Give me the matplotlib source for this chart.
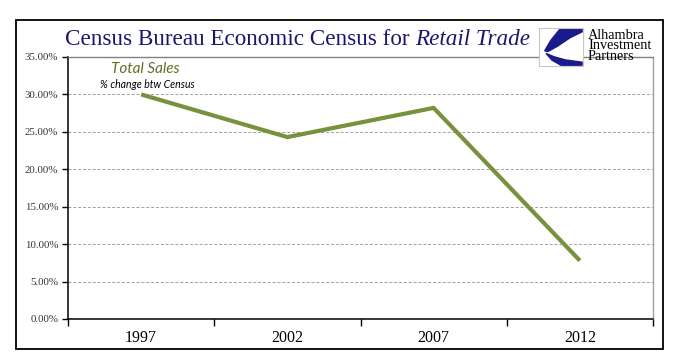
import numpy as np
import matplotlib
matplotlib.use("Agg")
import matplotlib.pyplot as plt
from matplotlib.patches import Rectangle, Polygon

# data
years = ["1997", "2002", "2007", "2012"]
pct_change = [30.0, 24.3, 28.2, 7.8]
yticks = [0, 5, 10, 15, 20, 25, 30, 35]
logo_lines = ["Alhambra", "Investment", "Partners"]

olive = "#76923C"
navy = "#1A1670"

fig = plt.figure(figsize=(6.78, 3.61), dpi=100)
fig.patch.set_facecolor("white")

# outer frame
fig.add_artist(Rectangle((15.5 / 678, 1 - 348.5 / 361), (663 - 15.5) / 678, (348.5 - 20) / 361,
                         transform=fig.transFigure, fill=False, edgecolor="black", linewidth=1.3))

ax = fig.add_axes([68 / 678, 1 - 319 / 361, (653 - 68) / 678, (319 - 57) / 361])
x = np.arange(len(years))
ax.plot(x, pct_change, color=olive, linewidth=3.0, solid_capstyle="butt", solid_joinstyle="miter")

ax.set_xlim(-0.5, len(years) - 0.5)
ax.set_ylim(0, 35)
ax.set_yticks(yticks)
ax.set_yticklabels([f"{v:.2f}%" for v in yticks], fontsize=7.8, family="Liberation Serif", color="#333333")
for v in yticks[1:-1]:
    ax.axhline(v, color="#a0a0a0", linewidth=0.7, linestyle=(0, (3, 2)), zorder=0)

ax.set_xticks(x)
ax.set_xticklabels(years, fontsize=11.5, family="Liberation Serif")
ax.set_xticks(np.arange(len(years) + 1) - 0.5, minor=True)
ax.tick_params(axis="x", which="major", length=0, pad=8)
ax.tick_params(axis="x", which="minor", length=5, width=1, direction="out")
ax.tick_params(axis="y", length=4, width=1, direction="out", pad=3)

ax.spines["left"].set_color("black")
ax.spines["bottom"].set_color("black")
ax.spines["left"].set_linewidth(1.1)
ax.spines["bottom"].set_linewidth(1.1)
ax.spines["top"].set_color("#808080")
ax.spines["right"].set_color("#a0a0a0")
ax.spines["top"].set_linewidth(1.0)
ax.spines["right"].set_linewidth(1.0)

ax.text(0.133, 0.955, "Total Sales", transform=ax.transAxes, fontsize=11, style="italic",
        family="Lato", color="#5f6f2a", ha="center", va="center")
ax.text(0.135, 0.895, "% change btw Census", transform=ax.transAxes, fontsize=7.6, style="italic",
        family="Lato", color="black", ha="center", va="center")

# title: regular part + italic part
t1 = fig.text(65 / 678, 1 - 45 / 361, "Census Bureau Economic Census for ", fontsize=16.7,
              family="Liberation Serif", color=navy, ha="left", va="baseline")
fig.canvas.draw()
bb = t1.get_window_extent()
fig.text(bb.x1 / fig.bbox.width, 1 - 45 / 361, "Retail Trade", fontsize=16.7, style="italic",
         family="Liberation Serif", color=navy, ha="left", va="baseline")

# logo
lax = fig.add_axes([539 / 678, 1 - 66 / 361, 44 / 678, 38 / 361])
lax.set_xlim(0, 1)
lax.set_ylim(0, 1)
lax.set_xticks([])
lax.set_yticks([])
lax.set_facecolor("white")
for s in lax.spines.values():
    s.set_color("#c8c8c8")
    s.set_linewidth(0.8)
lax.add_patch(Polygon([(0.48, 0.98), (0.98, 0.98), (0.98, 0.9), (0.7, 0.74), (0.42, 0.52),
                       (0.2, 0.38), (0.13, 0.4), (0.26, 0.66)], closed=True, color="#1a1a8c"))
lax.add_patch(Polygon([(0.16, 0.33), (0.3, 0.15), (0.5, 0.02), (0.98, 0.02), (0.98, 0.1),
                       (0.6, 0.16), (0.35, 0.24)], closed=True, color="#1a1a8c"))
fig.text(588 / 678, 1 - 29 / 361, "\n".join(logo_lines), fontsize=10.3,
         family="Liberation Serif", color="black", ha="left", va="top", linespacing=0.74)

fig.savefig("out.png", dpi=100)
